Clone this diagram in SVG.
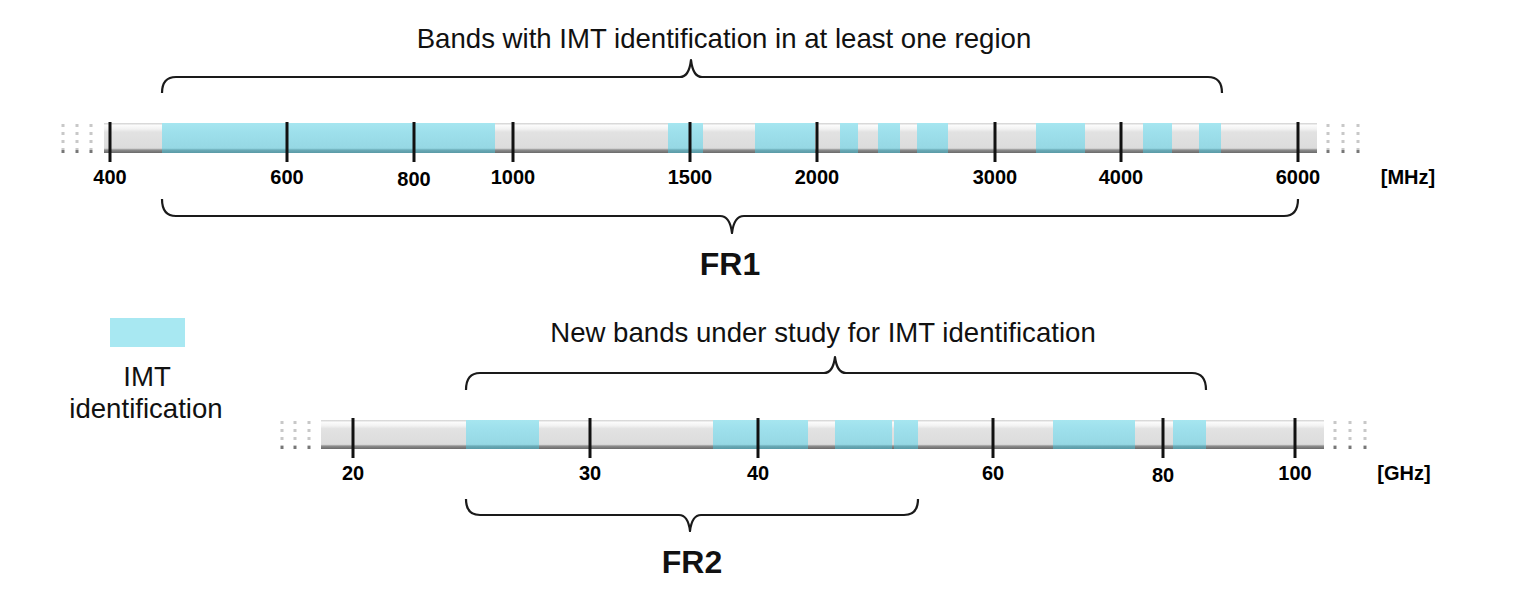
<svg xmlns="http://www.w3.org/2000/svg" width="1521" height="606" viewBox="0 0 1521 606">
<defs>
<linearGradient id="barG" x1="0" y1="0" x2="0" y2="1">
<stop offset="0" stop-color="#d0d0d0"/>
<stop offset="0.08" stop-color="#fbfbfb"/>
<stop offset="0.2" stop-color="#f2f2f2"/>
<stop offset="0.3" stop-color="#e2e2e2"/>
<stop offset="0.84" stop-color="#dcdcdc"/>
<stop offset="0.9" stop-color="#8c8c8c"/>
<stop offset="1" stop-color="#6a6a6a"/>
</linearGradient>
<linearGradient id="bandG" x1="0" y1="0" x2="0" y2="1">
<stop offset="0" stop-color="#a6e6f0"/>
<stop offset="0.3" stop-color="#9ee0ec"/>
<stop offset="0.84" stop-color="#96d8e4"/>
<stop offset="0.9" stop-color="#6aaab6"/>
<stop offset="1" stop-color="#5a9aa6"/>
</linearGradient>
<style>
.bar{fill:url(#barG)}
.band{fill:url(#bandG)}
.tick{stroke:#111;stroke-width:3}
.dash{stroke:#c8c8c8;stroke-width:3;stroke-dasharray:3 5}
.dashb{stroke:#777;stroke-width:3}
.brace{fill:none;stroke:#1a1a1a;stroke-width:2.2;stroke-linejoin:round}
.lbl{font-family:"Liberation Sans",Arial,sans-serif;font-weight:bold;font-size:20px;fill:#000;text-anchor:middle}
.title{font-family:"Liberation Sans",Arial,sans-serif;font-size:27.6px;fill:#111;text-anchor:middle}
.fr{font-family:"Liberation Sans",Arial,sans-serif;font-weight:bold;font-size:32px;fill:#111;text-anchor:middle}
</style>
</defs>
<rect width="1521" height="606" fill="#fff"/>

<g id="fr1-axis">
<line class="dash" x1="63" y1="124" x2="63" y2="150"/>
<line class="dash" x1="77" y1="124" x2="77" y2="150"/>
<line class="dash" x1="91" y1="124" x2="91" y2="150"/>
<line class="dashb" x1="63" y1="150" x2="63" y2="153"/>
<line class="dashb" x1="77" y1="150" x2="77" y2="153"/>
<line class="dashb" x1="91" y1="150" x2="91" y2="153"/>
<line class="dash" x1="1328" y1="124" x2="1328" y2="150"/>
<line class="dash" x1="1343" y1="124" x2="1343" y2="150"/>
<line class="dash" x1="1358" y1="124" x2="1358" y2="150"/>
<line class="dashb" x1="1328" y1="150" x2="1328" y2="153"/>
<line class="dashb" x1="1343" y1="150" x2="1343" y2="153"/>
<line class="dashb" x1="1358" y1="150" x2="1358" y2="153"/>
<rect class="bar" x="104" y="123" width="1213" height="30"/>
<rect class="band" x="162" y="123" width="333" height="30"/>
<rect class="band" x="668" y="123" width="35" height="30"/>
<rect class="band" x="755" y="123" width="60" height="30"/>
<rect class="band" x="840" y="123" width="18" height="30"/>
<rect class="band" x="878" y="123" width="22" height="30"/>
<rect class="band" x="917" y="123" width="31" height="30"/>
<rect class="band" x="1036" y="123" width="49" height="30"/>
<rect class="band" x="1143" y="123" width="29" height="30"/>
<rect class="band" x="1199" y="123" width="22" height="30"/>
<line class="tick" x1="110" y1="122" x2="110" y2="162"/>
<line class="tick" x1="287" y1="122" x2="287" y2="162"/>
<line class="tick" x1="414" y1="122" x2="414" y2="162"/>
<line class="tick" x1="513" y1="122" x2="513" y2="162"/>
<line class="tick" x1="690" y1="122" x2="690" y2="162"/>
<line class="tick" x1="817" y1="122" x2="817" y2="162"/>
<line class="tick" x1="995" y1="122" x2="995" y2="162"/>
<line class="tick" x1="1121" y1="122" x2="1121" y2="162"/>
<line class="tick" x1="1298" y1="122" x2="1298" y2="162"/>
<text class="lbl" x="110" y="184">400</text>
<text class="lbl" x="287" y="184">600</text>
<text class="lbl" x="414" y="186">800</text>
<text class="lbl" x="513" y="184">1000</text>
<text class="lbl" x="690" y="184">1500</text>
<text class="lbl" x="817" y="184">2000</text>
<text class="lbl" x="995" y="184">3000</text>
<text class="lbl" x="1121" y="184">4000</text>
<text class="lbl" x="1298" y="184">6000</text>
<text class="lbl" x="1408" y="184">[MHz]</text>
</g>

<g id="fr2-axis">
<line class="dash" x1="282" y1="421" x2="282" y2="446"/>
<line class="dash" x1="295" y1="421" x2="295" y2="446"/>
<line class="dash" x1="309" y1="421" x2="309" y2="446"/>
<line class="dashb" x1="282" y1="446" x2="282" y2="449"/>
<line class="dashb" x1="295" y1="446" x2="295" y2="449"/>
<line class="dashb" x1="309" y1="446" x2="309" y2="449"/>
<line class="dash" x1="1335" y1="421" x2="1335" y2="446"/>
<line class="dash" x1="1350" y1="421" x2="1350" y2="446"/>
<line class="dash" x1="1365" y1="421" x2="1365" y2="446"/>
<line class="dashb" x1="1335" y1="446" x2="1335" y2="449"/>
<line class="dashb" x1="1350" y1="446" x2="1350" y2="449"/>
<line class="dashb" x1="1365" y1="446" x2="1365" y2="449"/>
<rect class="bar" x="321" y="420" width="1003" height="29"/>
<rect class="band" x="466" y="420" width="73" height="29"/>
<rect class="band" x="713" y="420" width="95" height="29"/>
<rect class="band" x="835" y="420" width="57" height="29"/>
<rect class="band" x="894" y="420" width="24" height="29"/>
<rect class="band" x="1053" y="420" width="82" height="29"/>
<rect class="band" x="1173" y="420" width="33" height="29"/>
<line class="tick" x1="353" y1="418" x2="353" y2="458"/>
<line class="tick" x1="590" y1="418" x2="590" y2="458"/>
<line class="tick" x1="758" y1="418" x2="758" y2="458"/>
<line class="tick" x1="993" y1="418" x2="993" y2="458"/>
<line class="tick" x1="1163" y1="418" x2="1163" y2="458"/>
<line class="tick" x1="1295" y1="418" x2="1295" y2="458"/>
<text class="lbl" x="353" y="480">20</text>
<text class="lbl" x="590" y="480">30</text>
<text class="lbl" x="758" y="480">40</text>
<text class="lbl" x="993" y="480">60</text>
<text class="lbl" x="1163" y="482">80</text>
<text class="lbl" x="1295" y="480">100</text>
<text class="lbl" x="1404" y="480">[GHz]</text>
</g>

<g id="connectors">
<path class="brace" d="M162,93 Q162,77 176,77 L680,77 Q689,77 691,60 Q693,77 702,77 L1208,77 Q1222,77 1222,93"/>
<path class="brace" d="M162,199 Q162,216 176,216 L720,216 Q730,216 732,233 Q734,216 744,216 L1284,216 Q1298,216 1298,199"/>
<path class="brace" d="M466,390 Q466,373 480,373 L824,373 Q833,373 835,357 Q837,373 846,373 L1192,373 Q1206,373 1206,390"/>
<path class="brace" d="M466,499 Q466,515 480,515 L679,515 Q688,515 690,531 Q692,515 701,515 L904,515 Q918,515 918,499"/>
</g>

<g id="label-imt-region">
<text class="title" x="724" y="48">Bands with IMT identification in at least one region</text>
</g>
<g id="label-fr1">
<text class="fr" x="730" y="275">FR1</text>
</g>
<g id="label-new-bands">
<text class="title" x="823" y="342">New bands under study for IMT identification</text>
</g>
<g id="label-fr2">
<text class="fr" x="692" y="573">FR2</text>
</g>

<g id="legend">
<rect x="110" y="318" width="75" height="29" fill="#a8e8f2"/>
<text class="title" x="147" y="386">IMT</text>
<text class="title" x="146" y="418">identification</text>
</g>
</svg>
